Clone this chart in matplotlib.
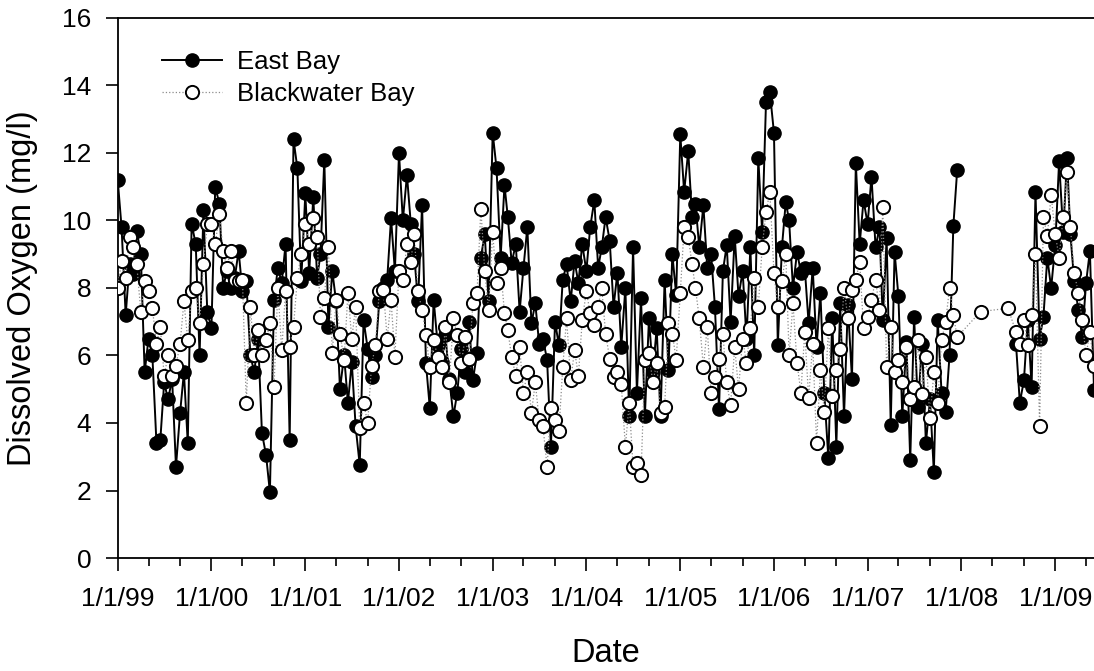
import numpy as np
import pandas as pd
import matplotlib
matplotlib.use('Agg')
from matplotlib import pyplot as plt
import matplotlib.dates as mdates
from matplotlib.ticker import FuncFormatter

nan = np.nan

# semi-monthly samples (1st and 16th of each month)
eb_1999 = [11.2, 9.8, 7.2, 8.7, 8.4, 9.7, 9.0, 5.5, 6.5, 6.0, 3.4, 3.5, 5.2, 4.7, 5.3, 2.7, 4.3, 5.5, 3.4, 9.9, 9.3, 6.0, 10.3, 7.3]
eb_2000 = [6.8, 11.0, 10.5, 8.0, 8.5, 8.0, 8.3, 9.1, 7.9, 8.2, 6.0, 5.5, 6.5, 3.7, 3.05, 1.95, 7.65, 8.6, 8.15, 9.3, 3.5, 12.4, 11.55, 8.2]
eb_2001 = [10.8, 8.45, 10.7, 8.3, 9.0, 11.8, 6.85, 8.5, 7.6, 5.0, 6.0, 4.6, 5.8, 3.9, 2.75, 7.05, 6.2, 5.37, 6.0, 7.6, 8.0, 8.25, 10.07, 8.5]
eb_2002 = [12.0, 10.0, 11.35, 9.9, 9.0, 7.6, 10.45, 5.77, 4.45, 7.65, 6.3, 5.8, 6.6, 5.3, 4.2, 4.9, 6.2, 5.5, 7.0, 5.27, 6.07, 8.9, 9.6, 7.6]
eb_2003 = [12.6, 11.55, 8.9, 11.05, 10.1, 8.75, 9.3, 7.3, 8.6, 9.8, 6.95, 7.55, 6.35, 6.5, 5.87, 3.3, 7.0, 6.3, 8.25, 8.7, 7.6, 8.8, 8.15, 9.3]
eb_2004 = [8.5, 9.8, 10.6, 8.6, 9.2, 10.1, 9.4, 7.45, 8.45, 6.25, 8.0, 4.2, 9.2, 4.9, 7.7, 4.2, 7.1, 5.5, 6.8, 4.2, 8.25, 5.57, 9.0, 7.8]
eb_2005 = [12.55, 10.85, 12.05, 10.1, 10.5, 9.2, 10.45, 8.6, 9.0, 7.45, 4.4, 8.5, 9.27, 7.0, 9.55, 7.75, 8.5, 6.5, 9.2, 6.0, 11.85, 9.65, 13.5, 13.8]
eb_2006 = [12.6, 6.3, 9.2, 10.55, 10.0, 8.0, 9.07, 8.45, 8.6, 6.95, 8.6, 6.25, 7.85, 4.9, 2.95, 7.1, 3.3, 7.55, 4.2, 7.5, 5.3, 11.7, 9.3, 10.6]
eb_2007 = [9.9, 11.3, 9.2, 9.8, 7.05, 9.47, 3.95, 9.07, 7.75, 4.2, 6.4, 2.9, 7.15, 4.47, 6.35, 3.4, 4.7, 2.55, 7.05, 4.9, 4.33, 6.0, 9.85, 11.5]
eb_2008 = [nan] * 14 + [6.35, 4.6, 5.27, 7.05, 5.07, 10.85, 6.5, 7.15, 8.9, 8.0]
eb_2009 = [9.27, 11.75, 9.65, 11.85, 9.6, 8.2, 7.35, 6.55, 8.15, 9.1, 4.98]

bw_1999 = [8.0, 8.8, 8.3, 9.5, 9.2, 8.7, 7.3, 8.2, 7.9, 7.4, 6.35, 6.85, 5.4, 6.0, 5.4, 5.7, 6.35, 7.6, 6.45, 7.9, 8.0, 6.95, 8.7, 9.9]
bw_2000 = [9.9, 9.3, 10.2, 9.1, 8.6, 9.1, 8.25, 8.2, 8.25, 4.6, 7.45, 6.0, 6.75, 6.0, 6.45, 6.95, 5.07, 8.0, 6.15, 7.9, 6.25, 6.85, 8.3, 9.0]
bw_2001 = [9.9, 9.3, 10.07, 9.5, 7.15, 7.7, 9.2, 6.07, 7.65, 6.65, 5.87, 7.85, 6.5, 7.45, 3.85, 4.6, 4.0, 5.7, 6.3, 7.9, 7.95, 6.5, 7.65, 5.95]
bw_2002 = [8.5, 8.25, 9.3, 8.77, 9.6, 7.9, 7.35, 6.6, 5.65, 6.45, 5.95, 5.65, 6.85, 5.2, 7.1, 6.6, 5.77, 6.55, 5.9, 7.55, 7.85, 10.35, 8.5, 7.35]
bw_2003 = [9.65, 8.15, 8.6, 7.25, 6.75, 5.95, 5.4, 6.25, 4.9, 5.5, 4.3, 5.2, 4.1, 3.9, 2.7, 4.45, 4.1, 3.75, 5.65, 7.1, 5.27, 6.15, 5.4, 7.05]
bw_2004 = [7.9, 7.25, 6.9, 7.45, 8.0, 6.65, 5.9, 5.35, 5.5, 5.15, 3.3, 4.6, 2.7, 2.8, 2.45, 5.87, 6.07, 5.2, 5.77, 4.3, 4.47, 6.95, 6.65, 5.87]
bw_2005 = [7.85, 9.8, 9.5, 8.7, 8.0, 7.1, 5.65, 6.85, 4.9, 5.37, 5.9, 6.65, 5.2, 4.53, 6.25, 5.0, 6.5, 5.77, 6.8, 8.3, 7.45, 9.2, 10.25, 10.85]
bw_2006 = [8.45, 7.45, 8.2, 9.0, 6.0, 7.55, 5.77, 4.9, 6.7, 4.75, 6.35, 3.4, 5.57, 4.33, 6.8, 4.8, 5.57, 6.2, 8.0, 7.1, 7.95, 8.25, 8.77, 6.8]
bw_2007 = [7.15, 7.65, 8.25, 7.35, 10.4, 5.65, 6.85, 5.5, 5.87, 5.2, 6.25, 4.7, 5.07, 6.45, 4.85, 5.95, 4.15, 5.5, 4.6, 6.45, 7.0, 8.0, 7.2, 6.55]
bw_2008 = [nan] * 5 + [7.3] + [nan] * 6 + [7.4, nan, 6.7, 6.35, 7.05, 6.3, 7.2, 9.0, 3.9, 10.1, 9.55, 10.75]
bw_2009 = [9.6, 8.9, 10.1, 11.45, 9.8, 8.45, 7.85, 7.05, 6.0, 6.7, 5.7]

years = list(range(1999, 2010))
east_bay = [eb_1999, eb_2000, eb_2001, eb_2002, eb_2003, eb_2004, eb_2005, eb_2006, eb_2007, eb_2008, eb_2009]
blackwater = [bw_1999, bw_2000, bw_2001, bw_2002, bw_2003, bw_2004, bw_2005, bw_2006, bw_2007, bw_2008, bw_2009]


def to_series(year_lists):
    dates, vals = [], []
    for yr, vs in zip(years, year_lists):
        for i, v in enumerate(vs):
            dates.append(pd.Timestamp(yr, i // 2 + 1, 1 if i % 2 == 0 else 16))
            vals.append(v)
    return pd.Series(vals, index=dates)


eb = to_series(east_bay)            # keep NaNs: East Bay line breaks in 2008
bw = to_series(blackwater).dropna()  # Blackwater dotted line stays connected

plt.rcParams['font.family'] = ['Liberation Sans', 'DejaVu Sans']

fig = plt.figure(figsize=(10.94, 6.71), dpi=100)
ax = fig.add_axes([0.1076, 0.1684, 0.8924, 0.8048])

ax.plot(eb.index, eb.values, '-', color='black', lw=1.4, marker='o', ms=9.5,
        mfc='black', mec='black', label='East Bay', zorder=2)
ax.plot(bw.index, bw.values, ':', color='#8c8c8c', lw=0.9, marker='o', ms=9.5,
        mfc='white', mec='black', mew=1.4, label='Blackwater Bay', zorder=3)

ax.set_xlim(pd.Timestamp(1999, 1, 1), pd.Timestamp(2009, 6, 1))
ax.set_ylim(0, 16)
ax.set_yticks(range(0, 17, 2))

ax.xaxis.set_major_locator(mdates.YearLocator())
ax.xaxis.set_minor_locator(mdates.MonthLocator(bymonth=[5, 9]))
ax.xaxis.set_major_formatter(FuncFormatter(
    lambda x, pos: '{d.month}/{d.day}/{yy:02d}'.format(d=mdates.num2date(x), yy=mdates.num2date(x).year % 100)))

ax.tick_params(axis='both', which='major', direction='out', length=9, width=1.2, labelsize=19)
ax.tick_params(axis='x', which='major', pad=12)
ax.tick_params(axis='y', which='major', pad=10)
ax.tick_params(axis='x', which='minor', direction='out', length=5.5, width=1.2)

for s in ['left', 'bottom', 'top']:
    ax.spines[s].set_linewidth(1.3)
ax.spines['right'].set_visible(False)

ax.set_ylabel('Dissolved Oxygen (mg/l)', fontsize=23.5, labelpad=17)
ax.set_xlabel('Date', fontsize=23.5, labelpad=19)

leg = ax.legend(loc='upper left', bbox_to_anchor=(0.045, 0.94), frameon=False,
                fontsize=18.5, handlelength=2.33, handletextpad=0.62, labelspacing=0.3,
                borderpad=0, borderaxespad=0)

fig.savefig('out.png', dpi=100)
